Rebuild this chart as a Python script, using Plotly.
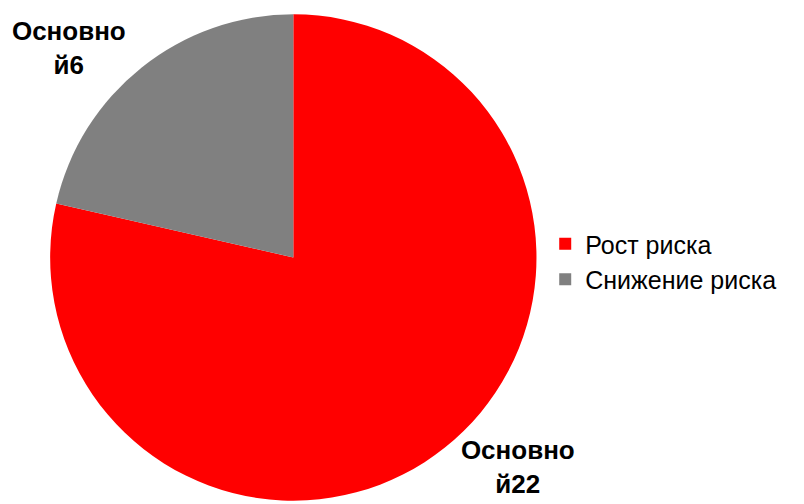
import plotly.graph_objects as go

categories = ["Рост риска", "Снижение риска"]
values = [22, 6]
series_name = "Основной"
colors = ["#FF0000", "#808080"]

labels_text = [f"<b>{series_name[:7]}<br>{series_name[7:]}{v}</b>" for v in values]

fig = go.Figure(go.Pie(
    labels=categories,
    values=values,
    text=labels_text,
    textinfo="text",
    textposition="outside",
    textfont=dict(family="Liberation Sans, Arial", size=26, color="black"),
    marker=dict(colors=colors, line=dict(width=0)),
    sort=False,
    direction="clockwise",
    rotation=0,
    hole=0,
    domain=dict(x=[0.0405, 0.653], y=[0.020, 0.996]),
    showlegend=True,
))

fig.update_layout(
    width=804, height=504,
    margin=dict(l=0, r=0, t=0, b=0),
    paper_bgcolor="white",
    plot_bgcolor="white",
    legend=dict(
        x=0.664, y=0.5, xanchor="left", yanchor="middle",
        font=dict(family="Liberation Sans, Arial", size=25, color="black"),
        itemwidth=30,
        tracegroupgap=0,
    ),
)

fig.write_html("out.html")
